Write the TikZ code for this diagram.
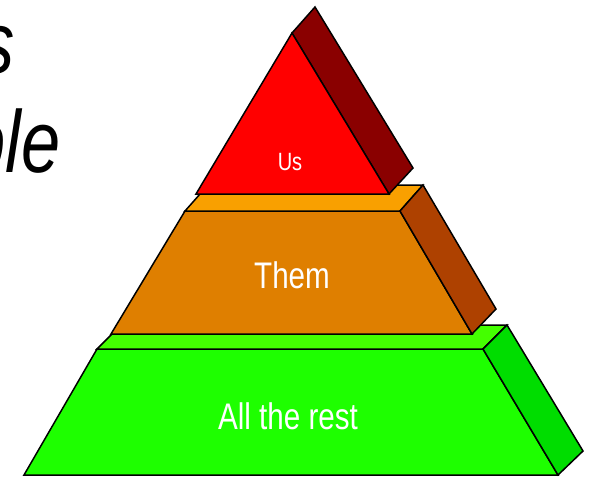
\documentclass[tikz,border=0pt]{standalone}
\usepackage{fontspec}
\setmainfont{Liberation Sans}[FakeStretch=0.8]
\usepackage{tikz}
\usetikzlibrary{positioning}

\definecolor{usfront}{HTML}{FF0000}
\definecolor{usside}{HTML}{8A0000}
\definecolor{themtop}{HTML}{F9A000}
\definecolor{themfront}{HTML}{DF7F00}
\definecolor{themside}{HTML}{AE4100}
\definecolor{resttop}{HTML}{44FF00}
\definecolor{restfront}{HTML}{1EFF00}
\definecolor{restside}{HTML}{00DD00}

\begin{document}
\begin{tikzpicture}[x=1pt,y=-1pt,
    face/.style={draw=black,line width=1.5pt,line join=miter},
    tierlabel/.style={text=white,anchor=base,inner sep=0pt,font=\fontsize{37}{40}\selectfont},
    title/.style={anchor=base east,inner sep=0pt,font=\fontsize{88}{90}\selectfont\itshape}]
    \useasboundingbox (0,0) rectangle (592,477);
    \clip (0,0) rectangle (592,477);
    % title, cut off at the left
    \node[title] (line1) at (15,73) {s};
    \node[title] (line2) at (61,172) {ple};
    % bottom tier
    \filldraw[face,fill=restfront] (97,349) -- (483,349) -- (558,475) -- (24,475) -- cycle;
    \filldraw[face,fill=resttop] (97,349) -- (121,325) -- (507,325) -- (483,349) -- cycle;
    \filldraw[face,fill=restside] (483,349) -- (507,325) -- (583,451) -- (558,475) -- cycle;
    % middle tier
    \filldraw[face,fill=themfront] (185,211) -- (400,211) -- (472,334) -- (111,334) -- cycle;
    \filldraw[face,fill=themtop] (185,211) -- (208,185) -- (423,185) -- (400,211) -- cycle;
    \filldraw[face,fill=themside] (400,211) -- (423,185) -- (496,309) -- (472,334) -- cycle;
    % top tier
    \filldraw[face,fill=usside] (292,33) -- (315,7) -- (413,168) -- (389,194) -- cycle;
    \filldraw[face,fill=usfront] (292,33) -- (389,194) -- (196,194) -- cycle;
    \node[tierlabel,font=\fontsize{25}{28}\selectfont] (us) at (290,170) {Us};
    \node[tierlabel] (them) at (292,288) {Them};
    \node[tierlabel] (rest) at (288,429) {All the rest};
  \end{tikzpicture}
\end{document}
